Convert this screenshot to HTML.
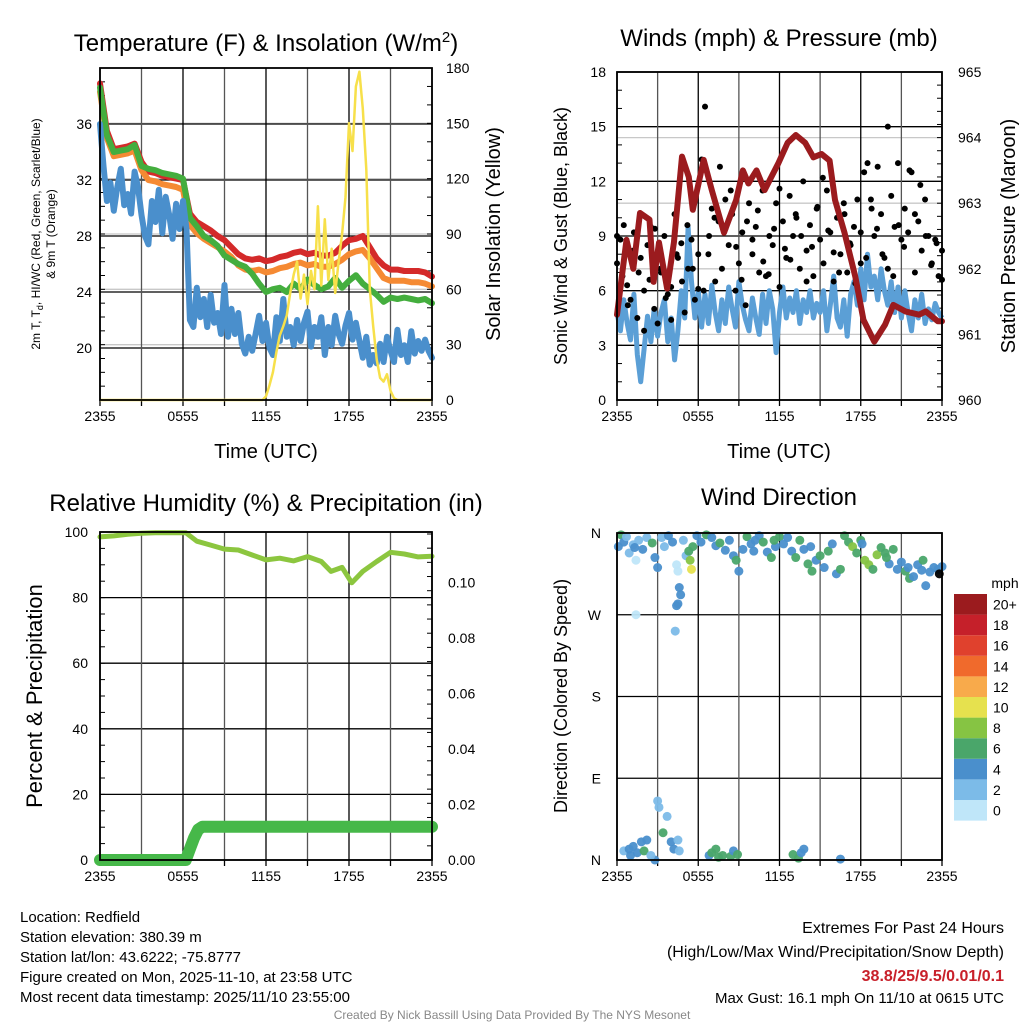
<!DOCTYPE html>
<html><head><meta charset="utf-8"><style>
html,body{margin:0;padding:0;background:#fff;}
svg{display:block;font-family:"Liberation Sans",sans-serif;}
</style></head><body>
<svg id="c" width="1024" height="1024" viewBox="0 0 1024 1024" xmlns="http://www.w3.org/2000/svg"></svg>
<script>
// ---------- DATA ----------
const timeTicks = ["2355","0555","1155","1755","2355"];
const tempTicks = [20,24,28,32,36];
const solarTicks = [0,30,60,90,120,150,180];
const windTicks = [0,3,6,9,12,15,18];
const presTicks = [960,961,962,963,964,965];
const rhTicks = [0,20,40,60,80,100];
const precTicks = [0,0.02,0.04,0.06,0.08,0.10];
const dirTicks = ["N","E","S","W","N"];
const speedLabels = ["0","2","4","6","8","10","12","14","16","18","20+"];

const tempRed = [38.9,35.5,34.2,34.3,34.4,34.6,33.3,32.6,32.5,32.3,32.2,32.1,32.0,29.6,29.0,28.7,28.4,28.0,27.7,27.2,26.7,26.4,26.3,26.4,26.2,26.3,26.5,26.6,26.8,26.9,26.7,26.8,26.6,26.6,26.8,27.3,27.7,27.8,28.0,27.2,26.4,25.9,25.6,25.6,25.5,25.5,25.5,25.4,25.1];
const tempOrange = [38.3,35.0,33.7,33.8,33.9,34.1,32.7,32.0,31.9,31.7,31.6,31.5,31.3,28.8,28.2,27.8,27.5,27.2,26.9,26.5,25.9,25.6,25.5,25.6,25.4,25.5,25.7,25.8,26.0,26.1,25.9,26.0,25.8,25.8,26.0,26.3,26.7,26.9,27.0,26.4,25.7,25.0,24.8,24.8,24.8,24.7,24.7,24.6,24.4];
const tempGreen = [38.6,35.2,34.0,34.1,34.2,34.5,33.0,32.8,32.7,32.5,32.4,32.3,32.1,29.3,28.7,28.0,27.7,27.3,26.6,26.3,26.0,25.8,25.3,24.6,24.0,24.2,24.3,24.0,24.6,24.2,24.9,24.5,24.2,24.4,25.0,24.3,24.8,25.2,24.6,24.2,23.8,23.3,23.6,23.5,23.6,23.5,23.4,23.5,23.2];
const tempBlue = [36,33,30.5,31.8,29.8,31.5,32.8,30.2,31,29.6,32.6,31.5,29.5,28,27.4,30.5,29,31.3,28.2,30.8,29.5,27.8,30.3,28.5,30.5,28.5,22,21.5,24.3,22.2,23.5,21.5,23.8,21.8,22.5,21,24.5,20.8,22.8,21,22.5,20.3,19.6,20.8,19.8,21,22.3,20.5,21.8,20,19.5,22.2,20.5,23.5,20.8,21.5,20.2,22,20.5,21.8,22.6,20.1,21.5,20.8,22.2,19.5,21.5,20.2,22.3,21,20.3,21.6,22.5,20.6,21.8,20.5,19.3,20.8,18.8,19.5,18.9,20.3,19,20.8,19.8,19,21.3,19.5,20.2,19,21.2,19.6,20.5,19.8,20.6,19.8,19.3];
const solar = [0,0,0,0,0,0,0,0,0,0,0,0,0,0,0,0,0,0,0,0,0,0,0,0,0,0,0,0,0,0,0,0,0,0,0,0,0,0,0,0,0,0,0,0,0,0,0,0,2,8,15,26,35,40,46,58,68,75,55,68,52,70,60,105,62,98,65,82,58,75,90,110,150,135,170,178,158,125,60,40,22,12,10,14,5,1,0,0,0,0,0,0,0,0,0,0,0];

const windSonic = [4.8,3.8,5.5,4.2,3.3,5.8,2.5,1.0,2.8,4.6,3.2,5.0,3.5,4.8,5.5,3.2,4.5,2.2,3.8,6.0,4.5,9.5,6.5,4.5,6.0,4.0,5.8,4.2,6.3,4.8,3.8,5.5,4.2,6.2,5.0,4.0,6.5,5.2,4.4,3.8,5.6,4.5,3.6,5.8,4.2,6.0,5.0,2.6,4.8,6.2,4.5,5.6,4.8,6.0,4.2,5.5,4.8,6.0,4.5,5.3,4.8,6.0,3.8,5.2,6.8,4.5,4.0,5.5,3.5,5.8,6.5,5.2,7.2,5.5,8.0,6.2,6.8,5.5,7.2,6.0,5.2,6.5,4.8,6.2,4.5,6.0,4.8,3.8,5.5,4.5,5.8,4.2,5.0,4.4,5.3,4.8,4.5];
const gust = [7.5,8.8,9.6,6.3,5.5,9.2,4.5,7.8,6.0,8.5,9.5,5.0,4.2,7.0,9.0,5.8,6.2,10.2,7.8,8.6,4.8,7.2,8.8,5.5,6.1,13.2,16.1,8.0,10.5,6.5,9.8,7.2,11.0,8.5,10.2,6.0,7.5,9.2,5.2,10.8,8.0,9.5,7.0,11.5,6.8,9.0,8.5,10.8,6.2,9.8,7.8,11.2,9.0,10.0,7.2,12.0,8.2,9.6,6.8,10.5,8.8,7.5,11.5,9.2,6.5,10.0,8.0,10.8,7.0,8.5,9.5,11.0,7.5,12.5,13.0,11.0,9.0,12.8,10.2,7.8,15.0,11.2,9.5,13.0,8.8,10.5,9.2,12.5,7.0,9.8,8.2,11.0,9.0,7.5,8.8,6.8,8.2];
const gust2 = [9.0,6.8,5.2,8.2,7.0,3.8,6.6,9.4,7.2,5.6,4.4,8.0,6.5,9.6,7.2,8.0,6.0,9.0,10.0,12.8,9.4,11.5,8.4,6.6,9.8,8.8,10.4,7.6,6.9,9.4,11.6,8.3,7.7,10.2,9.0,6.5,8.4,10.6,12.2,9.3,8.1,7.0,10.2,8.6,6.4,9.2,7.8,10.5,9.4,8.0,7.2,6.8,9.6,8.4,12.6,10.2,11.8,9.0,7.4,8.6,6.6];
const presH = [0,0.7,1.2,1.7,2.4,2.7,3.1,3.7,4.2,4.8,5.3,5.6,6.4,7.0,7.9,8.8,9.3,9.7,10.3,10.9,11.9,12.6,13.2,13.9,14.5,15.1,15.7,16.1,16.8,17.6,18.2,19.0,19.8,20.4,21.3,22.3,22.8,23.7,24];
const presV = [961.3,962.44,962.0,962.85,962.75,961.8,962.4,961.7,962.4,963.71,963.4,962.9,963.66,963.2,962.55,963.05,963.5,963.3,963.5,963.2,963.6,963.92,964.04,963.92,963.7,963.75,963.65,963.05,962.55,961.88,961.22,960.89,961.15,961.45,961.35,961.3,961.35,961.2,961.2];

const rhH = [0,1,2,3,4,5,6.2,7,8,9,10,11,12,13,14,15,16,16.7,17.5,18.2,19,20,21,22,23,24];
const rhV = [98.5,98.8,99.3,99.6,99.8,99.8,99.8,97.2,96,94.8,94.5,93,91.5,92,91.2,92.5,91,88,89.2,84.5,88,91,93.8,93.3,92.4,92.6];
const precH = [0,6.2,6.5,6.8,7.1,7.4,24];
const precV = [0,0,0.004,0.008,0.011,0.012,0.012];

const dirH = [0.1,0.3,0.5,0.7,0.9,1.2,1.4,1.4,1.6,1.9,2.2,2.6,2.8,3.0,3.3,3.5,3.8,4.1,4.4,4.5,4.6,4.7,4.5,4.4,4.3,4.9,5.1,5.3,5.4,5.5,5.6,5.9,6.2,6.6,7.0,7.3,7.6,8.0,8.3,8.6,8.8,9.0,9.3,9.6,9.9,10.2,10.5,10.8,11.1,11.4,11.7,12.0,12.3,12.6,12.9,13.2,13.5,13.8,14.1,14.4,14.7,15.0,15.3,15.6,15.9,16.2,16.5,16.8,17.1,17.4,17.7,18.0,18.3,18.6,18.9,19.2,19.5,19.8,20.1,20.4,20.7,21.0,21.3,21.6,21.9,22.2,22.5,22.8,23.1,23.4,23.7,24.0,0.5,0.9,1.2,1.5,1.8,2.2,2.0,1.0,2.8,3.0,3.1,3.4,3.7,4.0,4.2,4.5,4.6,2.5,6.8,7.0,7.3,7.5,7.8,8.4,8.6,8.9,13.0,13.4,13.6,13.8,16.5,1.3,10.1,11.6,14.3,18.1,19.9,21.5,22.6,23.8];
const dirD = [345,358,350,356,338,347,270,330,352,342,355,349,333,322,355,345,357,350,325,318,300,292,282,280,252,352,335,340,330,320,345,357,350,358,355,346,349,341,352,335,330,318,342,356,348,352,357,350,339,333,345,356,348,355,340,333,352,342,326,318,330,335,322,340,348,315,320,357,350,345,338,352,330,325,320,336,344,338,326,342,320,328,318,310,312,325,319,302,317,322,320,323,10,12,15,8,20,22,10,5,0,65,58,30,48,20,12,22,10,5,5,8,12,3,5,4,10,6,6,2,8,12,1,344,340,352,345,348,333,322,330,315];
const dirS = [4,6,4,2,2,2,1,1,2,4,2,6,4,4,2,2,4,4,1,1,4,4,4,4,2,2,2,6,8,10,6,4,4,6,4,4,6,4,4,4,6,4,4,6,4,4,4,6,4,6,4,6,4,4,4,6,6,4,6,6,4,6,4,6,4,4,6,6,6,8,6,6,8,8,6,8,6,6,4,6,4,4,6,6,4,4,4,4,4,4,4,4,2,4,4,4,4,4,6,4,4,2,2,6,2,4,4,2,2,2,4,6,6,6,6,6,4,6,6,6,4,4,4,4,4,6,4,4,6,4,6];

// ---------- helpers ----------
const NS="http://www.w3.org/2000/svg";
const svg=document.getElementById('c');
function mk(tag,attrs,parent){const e=document.createElementNS(NS,tag);for(const k in attrs)e.setAttribute(k,attrs[k]);(parent||svg).appendChild(e);return e;}
function txt(s,x,y,size,anchor,parent,extra){const e=mk('text',Object.assign({x:x,y:y,'font-size':size,'text-anchor':anchor||'middle',fill:'#000'},extra||{}),parent);e.textContent=s;return e;}
function pathFrom(xs,ys){let d='';for(let i=0;i<xs.length;i++)d+=(i?'L':'M')+xs[i].toFixed(1)+','+ys[i].toFixed(1);return d;}
function uniformH(n){const a=[];for(let i=0;i<n;i++)a.push(i*24/(n-1));return a;}
function frame(g,x0,x1,y0,y1){
  for(let i=0;i<=8;i++){const x=x0+(x1-x0)*i/8;const l=mk('line',{x1:x,x2:x,y1:y0,y2:y1,stroke:i%2?'#555':'#000','stroke-width':1.3},g);
    mk('line',{x1:x,x2:x,y1:y1,y2:y1+6,stroke:'#000','stroke-width':1.3},g);}
  timeTicks.forEach((s,i)=>{const e=txt(s,x0+(x1-x0)*i/4,y1+21,14,'middle',g);});
}
function hline(g,x0,x1,y,c){const l=mk('line',{x1:x0,x2:x1,y1:y,y2:y,stroke:c||'#000','stroke-width':1.3},g);}
function box(g,x0,x1,y0,y1){const r=mk('rect',{x:x0,y:y0,width:x1-x0,height:y1-y0,fill:'none',stroke:'#000','stroke-width':1.8},g);}
function minorTicks(g,x,y0,y1,n,dir){for(let i=0;i<=n;i++){const y=y0+(y1-y0)*i/n;mk('line',{x1:x,x2:x+dir*5,y1:y,y2:y,stroke:'#000','stroke-width':1},g);}}

// ---------- PANEL 1 ----------
(function(){
const g=mk('g',{});
const X0=100,X1=432,Y0=68,Y1=400;
const xs=h=>X0+h*(X1-X0)/24, yT=t=>348-(t-20)*14, yS=s=>Y1-s*(Y1-Y0)/180;
solarTicks.forEach(v=>{if(v>0&&v<180)hline(g,X0,X1,yS(v),'#c8c8c8');});
tempTicks.forEach(v=>hline(g,X0,X1,yT(v)));
frame(g,X0,X1,Y0,Y1);
minorTicks(g,X0,yT(40),Y1,Math.round((Y1-yT(40))/14),1);
minorTicks(g,X1,Y0,Y1,18,-1);
tempTicks.forEach(v=>{const e=txt(String(v),X0-8,yT(v)+5,14,'end',g);});
solarTicks.forEach(v=>{const e=txt(String(v),X1+14,yS(v)+5,14,'start',g);});
const series=[[tempBlue,'#4a8fcc',6,'dewpoint-line'],[tempRed,'#d42a2a',6,'temperature-line'],[tempOrange,'#f58a33',6,'temp-9m-line'],[tempGreen,'#44ae3e',6,'heat-index-line']];
const order=[1,2,3,0];
order.forEach(i=>{const s=series[i];const hs=uniformH(s[0].length);const p=mk('path',{d:pathFrom(hs.map(xs),s[0].map(yT)),fill:'none',stroke:s[1],'stroke-width':s[2],'stroke-linejoin':'round','stroke-linecap':'round'},g);});
const hs=uniformH(solar.length);
const sp=mk('path',{d:pathFrom(hs.map(xs),solar.map(yS)),fill:'none',stroke:'#f7e04a','stroke-width':2.5,'stroke-linejoin':'round'},g);

box(g,X0,X1,Y0,Y1);
const t=mk('text',{x:266,y:51,'font-size':24,'text-anchor':'middle'},g);t.innerHTML='Temperature (F) &amp; Insolation (W/m<tspan dy="-9" font-size="15">2</tspan><tspan dy="9">)</tspan>';

const a=txt('Time (UTC)',266,458,20,'middle',g);
const l=mk('text',{x:0,y:0,'font-size':12,'text-anchor':'middle',transform:'translate(40,234) rotate(-90)'},g);
l.innerHTML='2m T, T<tspan dy="3" font-size="9">d</tspan><tspan dy="-3">, HI/WC (Red, Green, Scarlet/Blue)</tspan>';

const l2=txt('& 9m T (Orange)',0,0,12,'middle',g,{transform:'translate(55,234) rotate(-90)'});
const r=txt('Solar Insolation (Yellow)',0,0,20,'middle',g,{transform:'translate(500,234) rotate(-90)'});
})();

// ---------- PANEL 2 ----------
(function(){
const g=mk('g',{});
const X0=617,X1=942,Y0=72,Y1=400;
const xs=h=>X0+h*(X1-X0)/24, yW=w=>Y1-w*(Y1-Y0)/18, yP=p=>Y1-(p-960)*(Y1-Y0)/5;
presTicks.forEach(v=>{if(v>960&&v<965)hline(g,X0,X1,yP(v),'#c8c8c8');});
windTicks.forEach(v=>hline(g,X0,X1,yW(v)));
frame(g,X0,X1,Y0,Y1);
minorTicks(g,X0,Y0,Y1,18,1);minorTicks(g,X1,Y0,Y1,25,-1);
windTicks.forEach(v=>{const e=txt(String(v),X0-11,yW(v)+5,14,'end',g);});
presTicks.forEach(v=>{const e=txt(String(v),X1+16,yP(v)+5,14,'start',g);});
const hs=uniformH(windSonic.length);
const wl=mk('path',{d:pathFrom(hs.map(xs),windSonic.map(yW)),fill:'none',stroke:'#5b9fd6','stroke-width':5,'stroke-linejoin':'round'},g);

const gh=uniformH(gust.length);
gust.forEach((v,i)=>{const c=mk('circle',{cx:xs(gh[i]),cy:yW(v),r:3,fill:'#000'},g);});
const gh2=uniformH(gust2.length);
gust2.forEach((v,i)=>{const c=mk('circle',{cx:xs(gh2[i]),cy:yW(v),r:3,fill:'#000'},g);});
const pl=mk('path',{d:pathFrom(presH.map(xs),presV.map(yP)),fill:'none',stroke:'#9b1b1e','stroke-width':6,'stroke-linejoin':'round','stroke-linecap':'round'},g);

box(g,X0,X1,Y0,Y1);
const t=txt('Winds (mph) & Pressure (mb)',779,46,24,'middle',g);
const a=txt('Time (UTC)',779,458,20,'middle',g);
const l=txt('Sonic Wind & Gust (Blue, Black)',0,0,18,'middle',g,{transform:'translate(567,236) rotate(-90)'});
const r=txt('Station Pressure (Maroon)',0,0,20,'middle',g,{transform:'translate(1015,236) rotate(-90)'});
})();

// ---------- PANEL 3 ----------
(function(){
const g=mk('g',{});
const X0=100,X1=432,Y0=532,Y1=860;
const xs=h=>X0+h*(X1-X0)/24, yR=v=>Y1-v*(Y1-Y0)/100, yQ=v=>Y1-v*2776;
rhTicks.forEach(v=>hline(g,X0,X1,yR(v)));
frame(g,X0,X1,Y0,Y1);
minorTicks(g,X0,Y0,Y1,20,1);minorTicks(g,X1,Y0+2,Y1,23,-1);
rhTicks.forEach(v=>{const e=txt(String(v),X0-12,yR(v)+5,14,'end',g);});
precTicks.forEach(v=>{const e=txt(v.toFixed(2),X1+16,yQ(v)+5,14,'start',g);});
const rl=mk('path',{d:pathFrom(rhH.map(xs),rhV.map(yR)),fill:'none',stroke:'#8cc63f','stroke-width':5,'stroke-linejoin':'round','stroke-linecap':'round'},g);

const ql=mk('path',{d:pathFrom(precH.map(xs),precV.map(yQ)),fill:'none',stroke:'#46b849','stroke-width':12,'stroke-linejoin':'round','stroke-linecap':'round'},g);

box(g,X0,X1,Y0,Y1);
const t=txt('Relative Humidity (%) & Precipitation (in)',266,511,24,'middle',g);
const l=txt('Percent & Precipitation',0,0,22,'middle',g,{transform:'translate(42,696) rotate(-90)'});
})();

// ---------- PANEL 4 ----------
(function(){
const g=mk('g',{});
const X0=617,X1=942,Y0=533,Y1=860;
const xs=h=>X0+h*(X1-X0)/24, yD=d=>Y1-d*(Y1-Y0)/360;
const colors=['#bfe6f9','#7cbbe8','#4a8fcc','#4aa66a','#86c443','#e6e14e','#f8aa4b','#f06a2c','#e0412d','#c5202a','#9b1b1e'];
dirTicks.forEach((s,i)=>{hline(g,X0,X1,yD(i*90));const e=txt(s,X0-16,yD(i*90)+5,14,'end',g);});
frame(g,X0,X1,Y0,Y1);
dirH.forEach((h,i)=>{const ci=Math.min(10,Math.floor(dirS[i]/2));const c=mk('circle',{cx:xs(h),cy:yD(dirD[i]),r:4.5,fill:colors[ci],'fill-opacity':0.95},g);});
box(g,X0,X1,Y0,Y1);
const t=txt('Wind Direction',779,505,24,'middle',g);
const l=txt('Direction (Colored By Speed)',0,0,18,'middle',g,{transform:'translate(567,696) rotate(-90)'});
const cb=mk('g',{},g);
const u=txt('mph',1005,588,14,'middle',cb);
speedLabels.forEach((s,i)=>{const y=594+(10-i)*20.6;const r=mk('rect',{x:954,y:y,width:33,height:20.6,fill:colors[i]},cb);
 const e=txt(s,993,y+15.5,14,'start',cb);});
})();

// ---------- footer ----------
(function(){
const g=mk('g',{});
const left=['Location: Redfield','Station elevation: 380.39 m','Station lat/lon: 43.6222; -75.8777','Figure created on Mon, 2025-11-10, at 23:58 UTC','Most recent data timestamp: 2025/11/10 23:55:00'];
left.forEach((s,i)=>{const e=txt(s,20,922+i*20,15,'start',g);});
const r1=txt('Extremes For Past 24 Hours',1004,933,16,'end',g);
const r2=txt('(High/Low/Max Wind/Precipitation/Snow Depth)',1004,957,16,'end',g);
const r3=txt('38.8/25/9.5/0.01/0.1',1004,981,16,'end',g,{fill:'#c8202a','font-weight':'bold'});
const r4=txt('Max Gust: 16.1 mph On 11/10 at 0615 UTC',1004,1003,15,'end',g);
const c=txt('Created By Nick Bassill Using Data Provided By The NYS Mesonet',512,1019,12,'middle',g,{fill:'#888'});
})();
</script>
</body></html>
